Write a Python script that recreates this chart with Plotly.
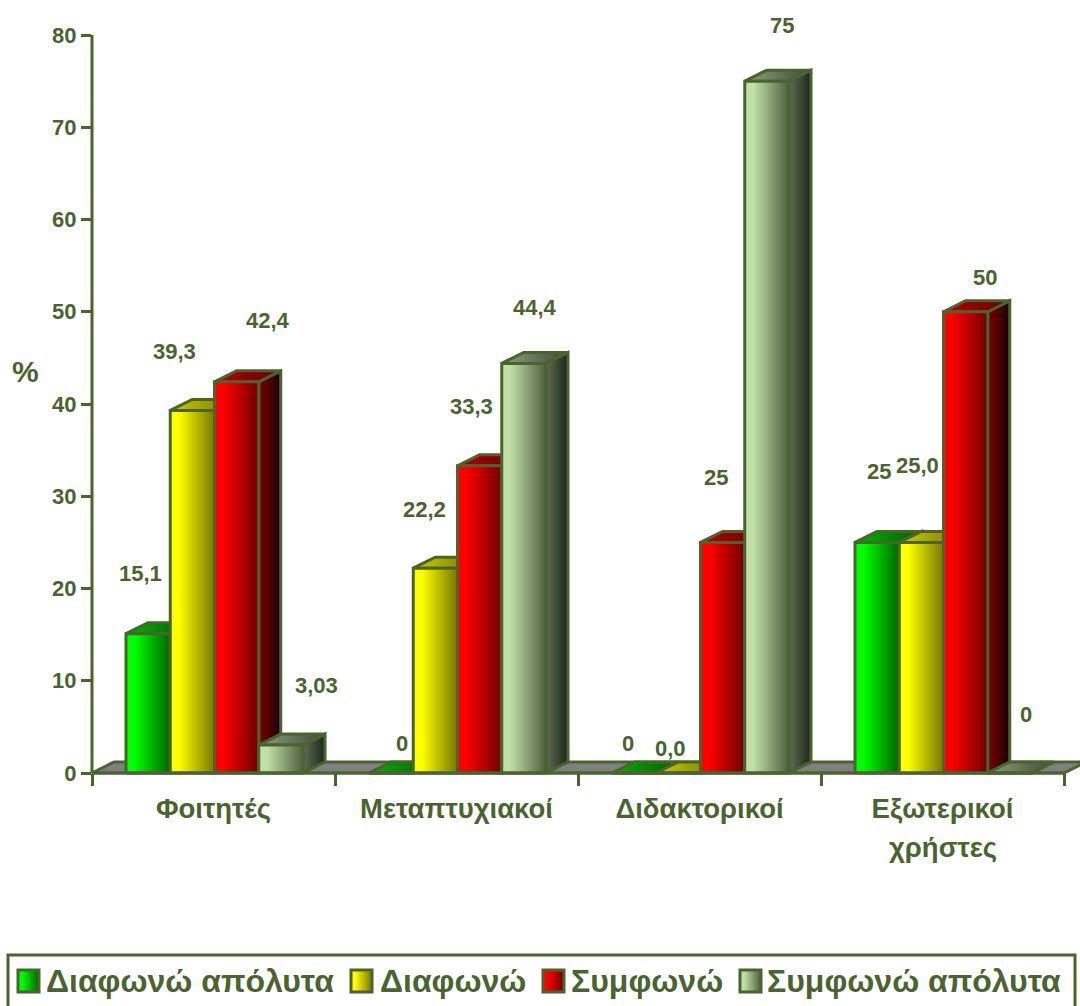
import plotly.graph_objects as go

categories = ["Φοιτητές", "Μεταπτυχιακοί", "Διδακτορικοί", "Εξωτερικοί<br>χρήστες"]
series_names = ["Διαφωνώ απόλυτα", "Διαφωνώ", "Συμφωνώ", "Συμφωνώ απόλυτα"]

disagree_fully = [15.1, 0, 0, 25]
disagree = [39.3, 22.2, 0, 25.0]
agree = [42.4, 33.3, 25, 50]
agree_fully = [3.03, 44.4, 75, 0]

disagree_fully_labels = ["15,1", "0", "0", "25"]
disagree_labels = ["39,3", "22,2", "0,0", "25,0"]
agree_labels = ["42,4", "33,3", "25", "50"]
agree_fully_labels = ["3,03", "44,4", "75", "0"]

y_ticks = [0, 10, 20, 30, 40, 50, 60, 70, 80]

# label nudges in pixels, one row per series
label_dx = [[-8, 11, -6, 2], [-18, -11, -8, -4], [31, -8, -7, 19], [36, 11, 15, 16]]
label_dy = [[60, 30, 30, 71], [59, 59, 25, 77], [61, 59, 65, 34], [60, 56, 56, 59]]

INK = "#4A6430"
FONT = "Liberation Sans"

# face gradients: (front, side, top), each a left/right colour pair
PALETTE = [
    (("#00ff00", "#006800"), ("#007000", "#001a00"), ("#00b400", "#006000")),
    (("#ffff00", "#7a7a00"), ("#7d7d00", "#1a1a00"), ("#cccc00", "#757500")),
    (("#ff0000", "#740000"), ("#800000", "#160000"), ("#b40000", "#680000")),
    (("#c2dfa8", "#526240"), ("#5e6e52", "#1c261a"), ("#8e9e7c", "#3f4a38")),
]

WIDTH, HEIGHT = 1080, 1006
LEFT, RIGHT, BASE, TOP80 = 92, 1064, 773, 35
CAT_PX = (RIGHT - LEFT) / 4
PX_PER_UNIT = (BASE - TOP80) / 80
BAR = 44.25 / CAT_PX
GAP = 34 / CAT_PX
DX = 22 / CAT_PX
DY = 11 / PX_PER_UNIT
STRIPS = 32
LINE = 3


def hex_rgb(c):
    return tuple(int(c[i:i + 2], 16) for i in (1, 3, 5))


def mix(a, b, t):
    ra, rb = hex_rgb(a), hex_rgb(b)
    return "rgb(%d,%d,%d)" % tuple(round(p + (q - p) * t) for p, q in zip(ra, rb))


def shade(a, b, t):
    # the bright end holds for a while before falling off
    return mix(a, b, max(0.0, (t - 0.18) / 0.82))


def px_x(px):
    return px / WIDTH


def px_y(py):
    return 1 - py / HEIGHT


def bold(size):
    return dict(family=FONT, size=size, color=INK, weight=700)


def face(xs, ys, colours, z):
    return go.Scatter(
        x=xs, y=ys, mode="lines", fill="toself",
        fillgradient=dict(type="horizontal",
                          colorscale=[[0, colours[0]], [1, colours[1]]]),
        line=dict(color=INK, width=LINE),
        hoverinfo="skip", showlegend=False, zorder=z,
    )


fig = go.Figure()

# grey floor running under all the groups
n_cat = len(categories)
fig.add_trace(go.Scatter(
    x=[0, DX, n_cat + DX, n_cat, 0], y=[0, DY, DY, 0, 0],
    mode="lines", fill="toself", fillcolor="#808080",
    line=dict(color=INK, width=LINE),
    hoverinfo="skip", showlegend=False, zorder=0,
))

all_values = [disagree_fully, disagree, agree, agree_fully]
all_labels = [disagree_fully_labels, disagree_labels, agree_labels, agree_fully_labels]

annotations = []
order = 1
for c in range(n_cat):
    for s, values in enumerate(all_values):
        v = values[c]
        x0 = c + GAP + s * BAR
        x1 = x0 + BAR
        front, side, top = PALETTE[s]

        fig.add_trace(face([x1, x1 + DX, x1 + DX, x1, x1],
                           [0, DY, v + DY, v, 0], side, order))
        fig.add_trace(face([x0, x0 + DX, x1 + DX, x1, x0],
                           [v, v + DY, v + DY, v, v], top, order))

        # front face: overlapping strips give the left-to-right shading
        lefts = [x0 + BAR * i / STRIPS for i in range(STRIPS)]
        fig.add_trace(go.Bar(
            x=lefts, y=[v] * STRIPS,
            width=[x1 - l for l in lefts], offset=0,
            marker=dict(color=[shade(front[0], front[1], i / (STRIPS - 1)) for i in range(STRIPS)],
                        line=dict(width=0)),
            hoverinfo="skip", showlegend=False, zorder=order + 1,
        ))
        fig.add_trace(go.Scatter(
            x=[x0, x1, x1, x0, x0], y=[0, 0, v, v, 0], mode="lines",
            line=dict(color=INK, width=LINE),
            hoverinfo="skip", showlegend=False, zorder=order + 2,
        ))
        order += 3

        annotations.append(dict(
            x=(x0 + x1) / 2, y=v, xref="x", yref="y",
            text=all_labels[s][c], showarrow=False,
            xanchor="center", yanchor="middle",
            xshift=label_dx[s][c], yshift=label_dy[s][c],
            font=bold(22),
        ))

annotations.append(dict(
    x=px_x(25), xref="paper", y=px_y(371), yref="paper", text="%", showarrow=False,
    xanchor="center", yanchor="middle", font=bold(30),
))

# the wrapped category name sets its second line with wider leading
tick_text = []
for c, name in enumerate(categories):
    first, *rest = name.split("<br>")
    tick_text.append(first)
    for line in rest:
        annotations.append(dict(
            x=c + 0.5, y=px_y(847), xref="x", yref="paper", text=line,
            showarrow=False, xanchor="center", yanchor="middle", font=bold(27.5),
        ))

# visible axes sit on their own subplot; the lines are paper shapes over the faces
shapes = [
    dict(type="line", xref="paper", yref="paper", layer="above",
         x0=px_x(LEFT), x1=px_x(LEFT), y0=px_y(BASE), y1=px_y(TOP80),
         line=dict(color=INK, width=LINE)),
    dict(type="line", xref="paper", yref="paper", layer="above",
         x0=px_x(LEFT), x1=px_x(RIGHT), y0=px_y(BASE), y1=px_y(BASE),
         line=dict(color=INK, width=LINE)),
]
fig.add_trace(go.Scatter(x=[0, n_cat], y=[0, y_ticks[-1]], mode="lines", xaxis="x2", yaxis="y2",
                         line=dict(width=0), hoverinfo="skip", showlegend=False))

# legend drawn by hand so its swatches can carry the same shading
shapes.append(dict(type="rect", xref="paper", yref="paper",
                   x0=px_x(8), x1=px_x(1075), y0=px_y(1012), y1=px_y(955),
                   line=dict(color=INK, width=LINE), fillcolor="rgba(0,0,0,0)"))
swatch_left = [18, 351, 543, 740]
text_left = [46, 380, 571, 767]
SW_W, SW_T, SW_B = 21, 970, 992
for s, name in enumerate(series_names):
    front = PALETTE[s][0]
    for i in range(SW_W):
        shapes.append(dict(type="rect", xref="paper", yref="paper",
                           x0=px_x(swatch_left[s] + i), x1=px_x(swatch_left[s] + SW_W),
                           y0=px_y(SW_B), y1=px_y(SW_T),
                           line=dict(width=0),
                           fillcolor=shade(front[0], front[1], i / (SW_W - 1))))
    shapes.append(dict(type="rect", xref="paper", yref="paper",
                       x0=px_x(swatch_left[s]), x1=px_x(swatch_left[s] + SW_W),
                       y0=px_y(SW_B), y1=px_y(SW_T),
                       line=dict(color=INK, width=LINE), fillcolor="rgba(0,0,0,0)"))
    annotations.append(dict(
        x=px_x(text_left[s]), y=px_y(981), xref="paper", yref="paper",
        text=name, showarrow=False, xanchor="left", yanchor="middle",
        xshift=-2, font=bold(32),
    ))

fig.update_layout(
    width=WIDTH, height=HEIGHT,
    margin=dict(l=0, r=0, t=0, b=0, pad=0, autoexpand=False),
    paper_bgcolor="white", plot_bgcolor="rgba(0,0,0,0)",
    barmode="overlay", showlegend=False,
    annotations=annotations, shapes=shapes,
    # drawing axes span the whole page so that nothing is clipped at the plot edge
    xaxis=dict(visible=False, range=[-LEFT / CAT_PX, (WIDTH - LEFT) / CAT_PX]),
    yaxis=dict(visible=False,
               range=[-(HEIGHT - BASE) / PX_PER_UNIT, BASE / PX_PER_UNIT]),
    xaxis2=dict(
        domain=[px_x(LEFT), px_x(RIGHT)], anchor="y2",
        range=[0, n_cat],
        tickmode="array",
        tickvals=[c + 0.5 for c in range(n_cat)], ticktext=tick_text,
        ticks="", showgrid=False, zeroline=False, showline=False,
        ticklabelstandoff=16,
        tickfont=bold(27.5),
        minor=dict(tickmode="array", tickvals=list(range(n_cat + 1)),
                   ticks="outside", ticklen=12, tickwidth=LINE, tickcolor=INK,
                   showgrid=False),
    ),
    yaxis2=dict(
        domain=[px_y(BASE), px_y(TOP80)], anchor="x2",
        range=[0, y_ticks[-1]],
        tickmode="array", tickvals=y_ticks,
        ticks="outside", ticklen=10, tickwidth=LINE, tickcolor=INK,
        showgrid=False, zeroline=False, showline=False,
        tickfont=bold(22),
    ),
    font=dict(family=FONT, color=INK, size=22),
)

fig.write_html("out.html")
